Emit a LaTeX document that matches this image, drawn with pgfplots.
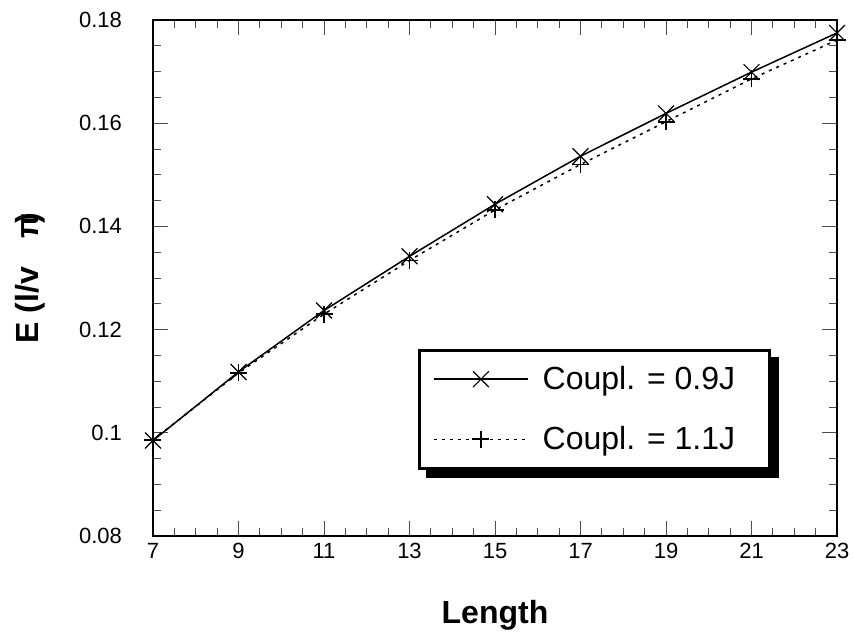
\documentclass[border=0pt]{standalone}
\usepackage{pgfplots}
\pgfplotsset{compat=1.18}
\usepackage{fontspec}
\setmainfont{Liberation Sans}
\usetikzlibrary{backgrounds}

\begin{document}
\begin{tikzpicture}
\begin{axis}[
  name=ax,
  scale only axis,
  width=342pt, height=258pt,
  xmin=7, xmax=23, ymin=0.08, ymax=0.18,
  xtick={7,9,...,23},
  ytick={0.08,0.10,0.12,0.14,0.16,0.18},
  minor x tick num=3,
  minor y tick num=3,
  tick align=inside,
  major tick length=7.5pt,
  minor tick length=4pt,
  tick style={black!70, line width=0.5pt},
  axis line style={black, line width=0.6pt},
  /pgf/number format/assume math mode=true,
  tick label style={font=\fontsize{11}{13}\selectfont},
  yticklabel style={/pgf/number format/fixed, /pgf/number format/precision=2, xshift=-12pt},
  scaled y ticks=false,
  xlabel={\textbf{Length}},
  ylabel={\textbf{E (l/v\hspace{0.9em}π\kern-0.3em)}},
  xlabel style={font=\fontsize{16}{18}\selectfont, at={(axis description cs:0.5,0)}, anchor=center, yshift=-39.5pt},
  ylabel style={font=\fontsize{16}{18}\selectfont, at={(axis description cs:0,0.5)}, anchor=center, yshift=61.5pt},
  legend cell align=left,
  legend style={
    name=leg,
    at={(0.387,0.128)}, anchor=south west,
    draw=black, line width=1.5pt, fill=white,
    font=\fontsize{16}{19}\selectfont,
    inner xsep=7pt, inner ysep=6pt,
    row sep=13pt, column sep=5pt,
  },
  legend image code/.code={%
    \draw[mark repeat=2,mark phase=2,#1] plot coordinates {(0pt,0pt) (23.5pt,0pt) (47pt,0pt)};%
  },
]
% coupling 0.9J
\addplot[black, line width=0.75pt, mark=x, mark size=5.6pt,
         mark options={solid, line width=0.6pt}]
  coordinates {(7,0.0985) (9,0.1118) (11,0.1237) (13,0.1342) (15,0.1443)
               (17,0.1536) (19,0.1619) (21,0.1699) (23,0.1775)};
\addlegendentry{Coupl. = 0.9J\hspace*{8pt}}
% coupling 1.1J
\addplot[black, line width=0.75pt, dash pattern=on 1.5pt off 2.5pt, mark=+, mark size=4.25pt,
         mark options={solid, line width=0.9pt}]
  coordinates {(7,0.0986) (9,0.1116) (11,0.1230) (13,0.1334) (15,0.1432)
               (17,0.1520) (19,0.1603) (21,0.1686) (23,0.1761)};
\addlegendentry{Coupl. = 1.1J\hspace*{8pt}}
\end{axis}
% shadow behind the legend box
\begin{pgfonlayer}{background}
  \fill[black] ([shift={(4pt,-4pt)}]leg.south west) rectangle ([shift={(4pt,-4pt)}]leg.north east);
\end{pgfonlayer}
\pgfresetboundingbox
\path[use as bounding box] ([shift={(-76.5pt,-51.5pt)}]ax.south west)
  rectangle ([shift={(351pt,268pt)}]ax.south west);
\end{tikzpicture}
\end{document}
